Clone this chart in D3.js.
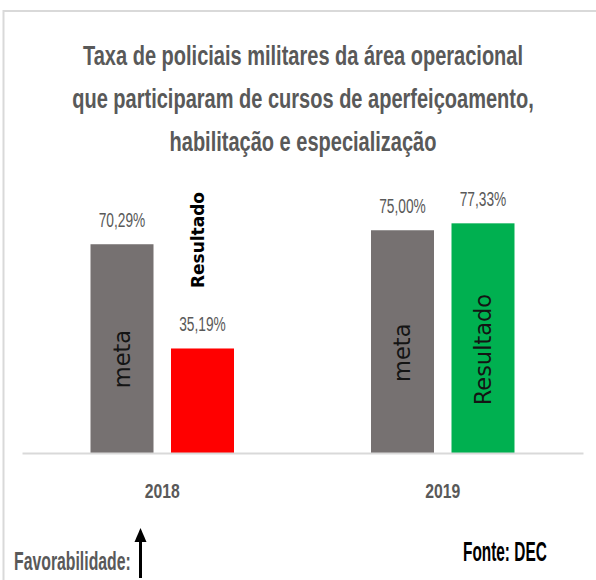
<!DOCTYPE html>
<html>
<head>
<meta charset="utf-8">
<script src="https://cdn.jsdelivr.net/npm/d3@7"></script>
<style>
  html, body { margin: 0; padding: 0; background: #fff; }
  svg { display: block; }
</style>
</head>
<body>
<svg id="chart" width="596" height="580"></svg>
<script>
const titleLines = [
  "Taxa de policiais militares da área operacional",
  "que participaram de cursos de aperfeiçoamento,",
  "habilitação e especialização"
];
const years = ["2018", "2019"];
const seriesNames = ["meta", "Resultado"];
const metaValues = [70.29, 75.00];
const resultValues = [35.19, 77.33];
const valueLabels = [["70,29%", "35,19%"], ["75,00%", "77,33%"]];
const resultColors = ["#ff0000", "#00b050"];
const metaColor = "#767171";

const svg = d3.select("#chart");
const cond = "'Liberation Sans', Arial, sans-serif";

// frame
svg.append("line").attr("x1", 3).attr("x2", 596).attr("y1", 11).attr("y2", 11)
  .attr("stroke", "#d9d9d9").attr("stroke-width", 2);
svg.append("line").attr("x1", 3.5).attr("x2", 3.5).attr("y1", 10).attr("y2", 580)
  .attr("stroke", "#d9d9d9").attr("stroke-width", 2);

// title
const title = svg.append("g");
titleLines.forEach((t, i) => {
  title.append("text")
    .attr("transform", `translate(303,${65 + i * 43}) scale(0.715,1)`)
    .attr("text-anchor", "middle")
    .attr("font-family", cond)
    .attr("font-weight", "bold")
    .attr("font-size", 28)
    .attr("fill", "#595959")
    .text(t);
});

const x = d3.scaleBand().domain(years).range([22, 583]);
const xs = d3.scaleBand().domain(seriesNames).range([0, x.bandwidth()])
  .paddingInner(0.2174).paddingOuter(0.851);
const y = d3.scaleLinear().domain([0, 100]).range([453, 156]);

const data = [];
years.forEach((yr, i) => {
  data.push({ year: yr, series: "meta", value: metaValues[i], color: metaColor, label: valueLabels[i][0], idx: i });
  data.push({ year: yr, series: "Resultado", value: resultValues[i], color: resultColors[i], label: valueLabels[i][1], idx: i });
});

// bars
svg.append("g").selectAll("rect").data(data).join("rect")
  .attr("x", d => x(d.year) + xs(d.series))
  .attr("y", d => y(d.value))
  .attr("width", xs.bandwidth())
  .attr("height", d => y(0) - y(d.value))
  .attr("fill", d => d.color);

// axis
const axis = svg.append("g").attr("transform", `translate(0,${y(0)})`)
  .call(d3.axisBottom(x).tickSize(0).tickPadding(30));
axis.select(".domain").attr("stroke", "#d9d9d9").attr("stroke-width", 2);
axis.selectAll(".tick text")
  .attr("font-family", cond)
  .attr("font-weight", "bold")
  .attr("font-size", 21)
  .attr("fill", "#595959")
  .attr("dy", "0.71em")
  .attr("x", 0)
  .attr("transform", "scale(0.75,1)");

// value labels
svg.append("g").selectAll("text").data(data).join("text")
  .attr("transform", d => `translate(${x(d.year) + xs(d.series) + xs.bandwidth() / 2},${y(d.value) - 17}) scale(0.67,1)`)
  .attr("text-anchor", "middle")
  .attr("font-family", cond)
  .attr("font-size", 20.5)
  .attr("fill", "#595959")
  .text(d => d.label);

// in-bar rotated labels
const inBar = data.filter(d => !(d.series === "Resultado" && d.idx === 0));
svg.append("g").selectAll("text").data(inBar).join("text")
  .attr("transform", d => {
    const cx = x(d.year) + xs(d.series) + xs.bandwidth() / 2;
    const cy = y(0) - (y(0) - y(d.value)) * 0.45;
    return `translate(${cx},${cy}) rotate(-90)`;
  })
  .attr("text-anchor", "middle")
  .attr("dy", "0.35em")
  .attr("font-family", "'DejaVu Sans', Verdana, sans-serif")
  .attr("font-size", 22.5)
  .attr("fill", "#141414")
  .text(d => d.series);

// 2018 Resultado label above the red bar
const r18 = data.find(d => d.series === "Resultado" && d.idx === 0);
svg.append("text")
  .attr("transform", `translate(${x(r18.year) + xs(r18.series) + xs.bandwidth() / 2 - 4},240) rotate(-90)`)
  .attr("text-anchor", "middle")
  .attr("dy", "0.35em")
  .attr("font-family", "'DejaVu Sans', Verdana, sans-serif")
  .attr("font-weight", "bold")
  .attr("font-size", 17)
  .attr("fill", "#000")
  .text("Resultado");

// footer
svg.append("text")
  .attr("transform", "translate(14,570) scale(0.62,1)")
  .attr("font-family", cond)
  .attr("font-weight", "bold")
  .attr("font-size", 25.5)
  .attr("fill", "#595959")
  .text("Favorabilidade:");

svg.append("line").attr("x1", 140.5).attr("x2", 140.5).attr("y1", 538).attr("y2", 578)
  .attr("stroke", "#000").attr("stroke-width", 3);
svg.append("path").attr("d", "M140.5,528 L146.5,542 L134.5,542 Z").attr("fill", "#000");

svg.append("text")
  .attr("transform", "translate(463,561) scale(0.57,1)")
  .attr("font-family", cond)
  .attr("font-weight", "bold")
  .attr("font-size", 27)
  .attr("fill", "#000")
  .text("Fonte: DEC");
</script>
</body>
</html>
